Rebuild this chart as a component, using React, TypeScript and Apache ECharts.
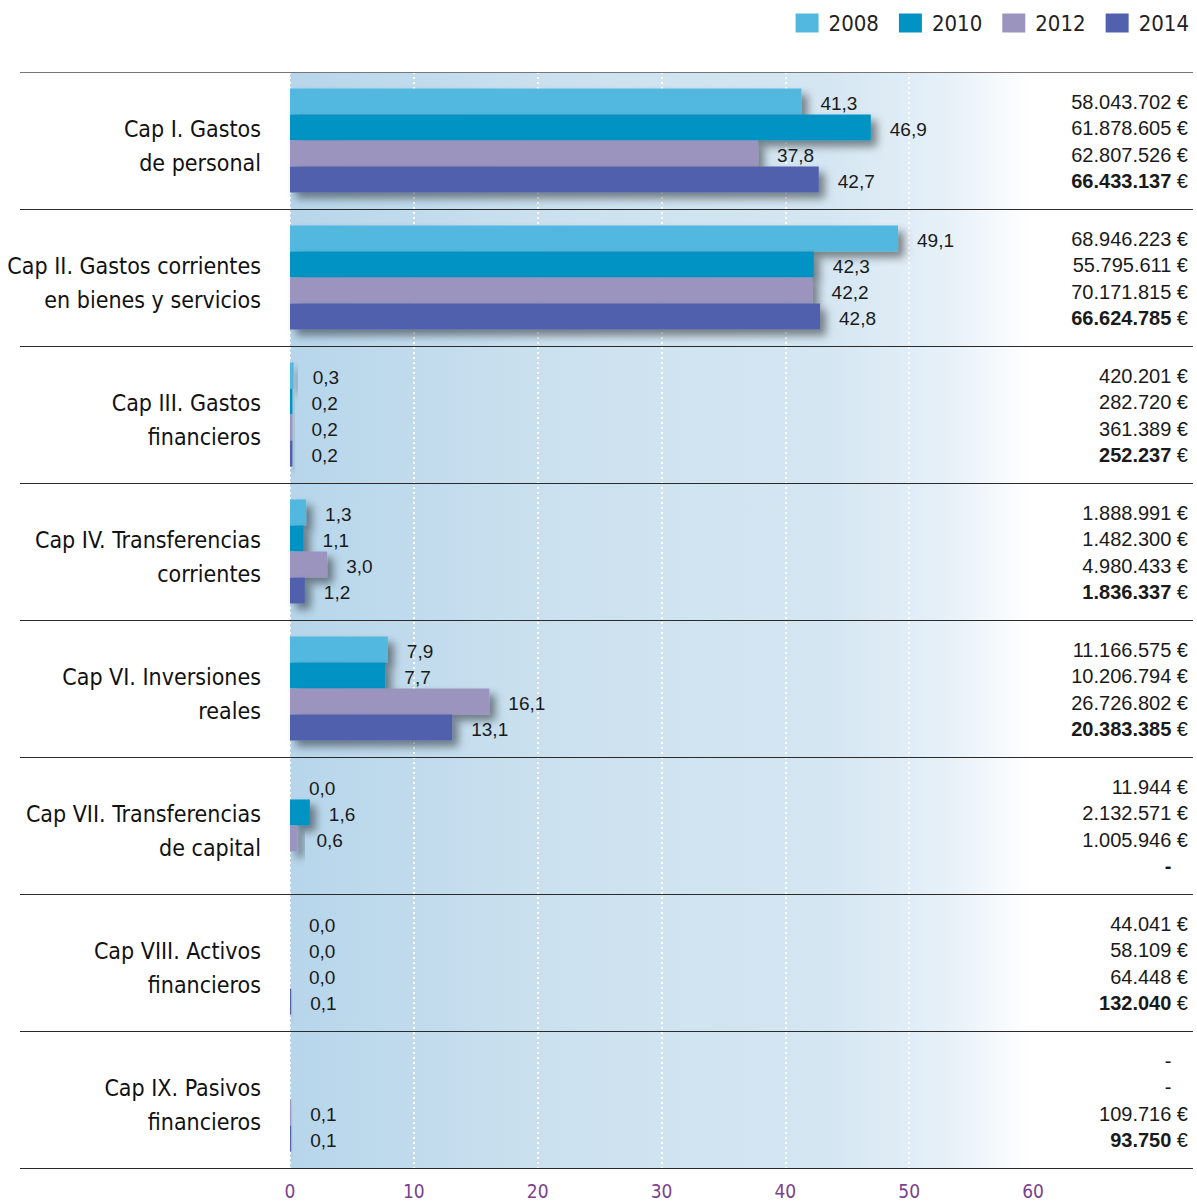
import React, { useEffect, useRef } from "react";
import * as echarts from "echarts";

const categories = [
  "Cap I. Gastos\nde personal",
  "Cap II. Gastos corrientes\nen bienes y servicios",
  "Cap III. Gastos\nfinancieros",
  "Cap IV. Transferencias\ncorrientes",
  "Cap VI. Inversiones\nreales",
  "Cap VII. Transferencias\nde capital",
  "Cap VIII. Activos\nfinancieros",
  "Cap IX. Pasivos\nfinancieros",
];

const years = ["2008", "2010", "2012", "2014"];
const colors = ["#53b8df", "#0093c4", "#9b94bf", "#5161ad"];

const pct2008 = [41.3, 49.1, 0.3, 1.3, 7.9, 0.0, 0.0, null];
const pct2010 = [46.9, 42.3, 0.2, 1.1, 7.7, 1.6, 0.0, null];
const pct2012 = [37.8, 42.2, 0.2, 3.0, 16.1, 0.6, 0.0, 0.1];
const pct2014 = [42.7, 42.8, 0.2, 1.2, 13.1, null, 0.1, 0.1];

const eur2008 = ["58.043.702", "68.946.223", "420.201", "1.888.991", "11.166.575", "11.944", "44.041", null];
const eur2010 = ["61.878.605", "55.795.611", "282.720", "1.482.300", "10.206.794", "2.132.571", "58.109", null];
const eur2012 = ["62.807.526", "70.171.815", "361.389", "4.980.433", "26.726.802", "1.005.946", "64.448", "109.716"];
const eur2014 = ["66.433.137", "66.624.785", "252.237", "1.836.337", "20.383.385", null, "132.040", "93.750"];

const xTicks = { min: 0, max: 60, interval: 10 };

const pctSeries = [pct2008, pct2010, pct2012, pct2014];
const eurSeries = [eur2008, eur2010, eur2012, eur2014];

const NARROW = "'DejaVu Sans Condensed', 'Liberation Sans Narrow', 'Arial Narrow', sans-serif";
const SANS = "'Liberation Sans', Arial, Helvetica, sans-serif";
const GAP = 0.24;

export default function App() {
  const ref = useRef<HTMLDivElement>(null);
  useEffect(() => {
    if (!ref.current) return;
    const chart = echarts.init(ref.current, null, { renderer: "svg" });

    const barSeries = years.map((y, k) => ({
      name: y,
      type: "bar",
      xAxisIndex: 0,
      yAxisIndex: 0,
      barGap: "0%",
      barCategoryGap: GAP * 100 + "%",
      data: pctSeries[k],
      z: 3,
      itemStyle: {
        color: colors[k],
        shadowColor: "rgba(0,0,0,0.45)",
        shadowBlur: 8,
        shadowOffsetX: 6,
        shadowOffsetY: 6,
      },
      label: {
        show: true,
        position: "right",
        distance: 19,
        offset: [0, 2],
        fontSize: 19,
        fontFamily: SANS,
        color: "#1a1a1a",
        formatter: (p: any) =>
          p.value == null ? "" : Number(p.value).toFixed(1).replace(".", ","),
      },
    }));

    const eurData: any[] = [];
    categories.forEach((_, i) => {
      years.forEach((_, k) => {
        eurData.push([xTicks.max, i, k]);
      });
    });

    const catRich = {
      fontSize: 23,
      lineHeight: 34,
      fontFamily: NARROW,
      color: "#111",
      align: "right",
    };

    const option: any = {
      animation: false,
      legend: {
        data: years,
        right: 3,
        top: 7,
        icon: "rect",
        itemWidth: 23,
        itemHeight: 19,
        itemGap: 20,
        textStyle: {
          fontSize: 22,
          fontFamily: NARROW,
          color: "#222",
          padding: [0, 0, 0, 5],
        },
      },
      grid: [
        {
          left: 290,
          right: 164,
          top: 72,
          bottom: 34,
          outerBoundsMode: "none",
          containLabel: false,
          show: true,
          borderWidth: 0,
          backgroundColor: new echarts.graphic.LinearGradient(0, 0, 1, 0, [
            { offset: 0, color: "#b7d6eb" },
            { offset: 0.36, color: "#cce1ef" },
            { offset: 0.72, color: "#d4e6f2" },
            { offset: 0.88, color: "#e6f0f8" },
            { offset: 1, color: "#ffffff" },
          ]),
        },
        { left: 20, right: 4, top: 72, bottom: 34, outerBoundsMode: "none", containLabel: false },
      ],
      xAxis: [
        {
          type: "value",
          gridIndex: 0,
          min: xTicks.min,
          max: xTicks.max,
          interval: xTicks.interval,
          axisLine: { show: false },
          axisTick: { show: false },
          axisLabel: {
            fontSize: 19,
            fontFamily: NARROW,
            color: "#7d3f8f",
            margin: 13,
          },
          splitLine: {
            show: true,
            lineStyle: { color: "#ffffff", width: 2, type: [2, 3] },
          },
        },
        { type: "value", gridIndex: 1, min: 0, max: 1, show: false },
      ],
      yAxis: [
        {
          type: "category",
          gridIndex: 0,
          inverse: true,
          data: categories,
          axisLine: { show: false },
          axisTick: { show: false },
          splitLine: { show: false },
          axisLabel: {
            fontSize: 23,
            lineHeight: 34,
            fontFamily: NARROW,
            color: "#111",
            margin: 29,
            formatter: (v: string) =>
              "{s| }\n" + v.split("\n").map((s) => "{b|" + s + "}").join("\n"),
            rich: {
              s: { fontSize: 8, lineHeight: 10, fontFamily: NARROW, align: "right" },
              b: { ...catRich },
            },
          },
        },
        {
          type: "category",
          gridIndex: 1,
          inverse: true,
          data: categories,
          z: 5,
          axisLine: { show: false },
          axisTick: { show: false },
          axisLabel: { show: false },
          splitLine: {
            show: true,
            lineStyle: {
              color: ["#777777", "#2b2b2b", "#2b2b2b", "#2b2b2b", "#2b2b2b", "#2b2b2b", "#2b2b2b", "#2b2b2b", "#2b2b2b"],
              width: 1.2,
            },
          },
        },
      ],
      series: [
        ...barSeries,
        {
          type: "custom",
          name: "importes",
          xAxisIndex: 0,
          yAxisIndex: 0,
          silent: true,
          z: 4,
          encode: { x: 0, y: 1 },
          data: eurData,
          renderItem: (params: any, api: any) => {
            const cat = api.value(1);
            const yr = api.value(2);
            const c = api.coord([api.value(0), cat]);
            const band = api.size([0, 1])[1];
            const barH = (band * (1 - GAP)) / years.length;
            const y = c[1] - (barH * years.length) / 2 + (yr + 0.5) * barH;
            const amt = eurSeries[yr][cat];
            const bold = yr === years.length - 1;
            const text = amt == null ? "{n|-}{t| €}" : "{n|" + amt + "} €";
            return {
              type: "text",
              x: api.getWidth() - 9,
              y: y + 1,
              style: {
                text,
                align: "right",
                verticalAlign: "middle",
                fontSize: 20,
                fontFamily: SANS,
                fill: "#1a1a1a",
                rich: {
                  n: {
                    fontSize: 20,
                    fontFamily: SANS,
                    fontWeight: bold ? "bold" : "normal",
                    fill: "#1a1a1a",
                  },
                  t: {
                    fontSize: 20,
                    fontFamily: SANS,
                    fill: "rgba(0,0,0,0)",
                  },
                },
              },
            };
          },
        },
      ],
    };

    chart.setOption(option);
    return () => chart.dispose();
  }, []);

  return (
    <div
      ref={ref}
      style={{ position: "fixed", left: 0, top: 0, width: 1197, height: 1202, background: "#fff" }}
    />
  );
}
